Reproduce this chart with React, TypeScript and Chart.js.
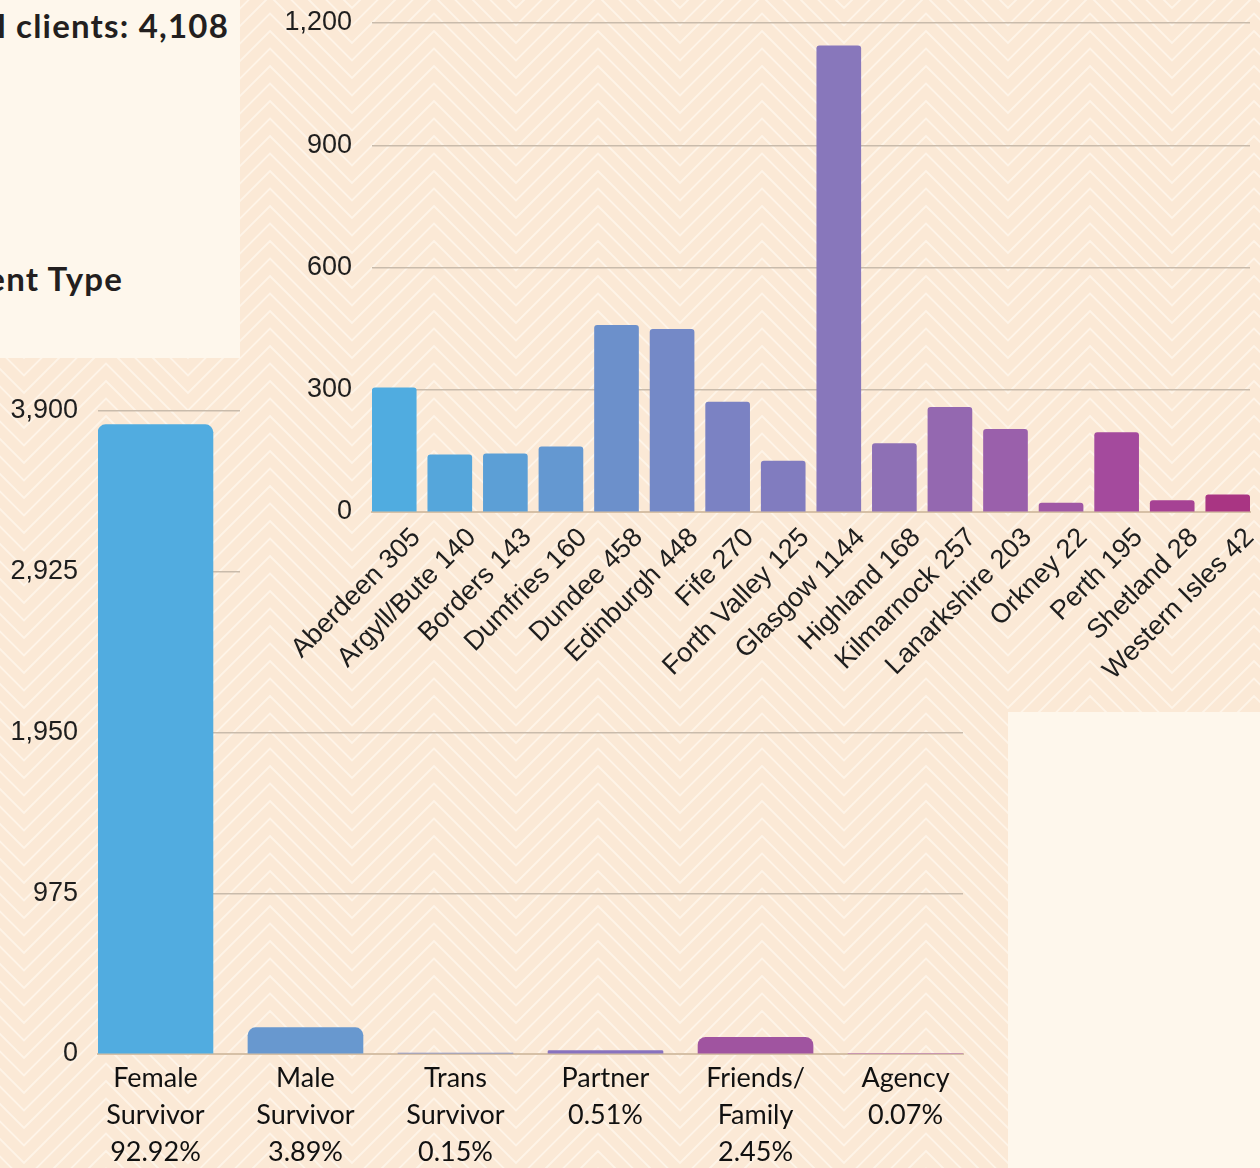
import React, { useEffect, useRef } from "react";
import { Chart, registerables } from "chart.js";

Chart.register(...registerables);

// ---------- data ----------
const regionNames = [
  "Aberdeen", "Argyll/Bute", "Borders", "Dumfries", "Dundee", "Edinburgh",
  "Fife", "Forth Valley", "Glasgow", "Highland", "Kilmarnock", "Lanarkshire",
  "Orkney", "Perth", "Shetland", "Western Isles",
];
const regionClients = [305, 140, 143, 160, 458, 448, 270, 125, 1144, 168, 257, 203, 22, 195, 28, 42];
const regionColors = [
  "#50ACE0", "#55A6DB", "#5C9FD6", "#6498D1", "#6C90CB", "#7489C7",
  "#7B82C3", "#817CBF", "#8877BB", "#8E70B5", "#9468B0", "#9A60AB",
  "#A058A5", "#A44A9D", "#A64294", "#A93583",
];
const regionTicks = [0, 300, 600, 900, 1200];

const typeNames = [
  ["Female", "Survivor"],
  ["Male", "Survivor"],
  ["Trans", "Survivor"],
  ["Partner"],
  ["Friends/", "Family"],
  ["Agency"],
];
const typePercents = ["92.92%", "3.89%", "0.15%", "0.51%", "2.45%", "0.07%"];
const typeClients = [3817, 160, 6, 21, 101, 3];
const typeColors = ["#51ACE0", "#6898CF", "#7D8BCA", "#8872BE", "#A054A0", "#C58AB5"];
const typeTicks = [0, 975, 1950, 2925, 3900];

const totalClients = 4108;

// ---------- styles ----------
const BG = "#FBE9D6";
const LINE = "#FEF4E8";
const PANEL = "#FEF7EC";
const GRID = "#C9BBAB";
const AXIS = "#D6C0A6";
const TEXT = "#1E1E1E";
const ARIAL = "'Liberation Sans', Arial, sans-serif";

function chevronSvg(w: number, h: number) {
  const S = 17.5;
  const half = 82;
  const x0 = 352;
  const vy = 43;
  let lines = "";
  for (let k = -8; k <= Math.ceil(h / S) + 2; k++) {
    const pts: string[] = [];
    for (let n = -6; n <= Math.ceil((w - x0) / half) + 2; n++) {
      const x = x0 + n * half;
      const z = n % 2 === 0 ? 0 : -half;
      pts.push(`${x},${(vy + k * S + z).toFixed(1)}`);
    }
    lines += `<polyline points='${pts.join(" ")}' fill='none' stroke='${LINE}' stroke-width='1.8'/>`;
  }
  const svg = `<svg xmlns='http://www.w3.org/2000/svg' width='${w}' height='${h}'><rect width='${w}' height='${h}' fill='${BG}'/>${lines}</svg>`;
  return `url("data:image/svg+xml;utf8,${encodeURIComponent(svg)}")`;
}

const PATTERN = chevronSvg(1260, 1168);

const numFmt = (v: number) => v.toLocaleString("en-US");

function RegionChart() {
  const ref = useRef<HTMLCanvasElement | null>(null);
  useEffect(() => {
    if (!ref.current) return;
    const chart = new Chart(ref.current, {
      type: "bar",
      data: {
        datasets: [
          {
            data: regionClients.map((v, i) => ({ x: i, y: v })),
            backgroundColor: regionColors,
            borderRadius: 3,
            barThickness: 44,
          },
        ],
      },
      options: {
        animation: false,
        responsive: false,
        maintainAspectRatio: false,
        layout: { padding: { top: 23, right: 10, left: 0, bottom: 0 } },
        plugins: { legend: { display: false }, tooltip: { enabled: false } },
        scales: {
          x: {
            type: "linear",
            offset: false,
            min: -0.4,
            max: regionNames.length - 1 + 0.4,
            bounds: "data",
            afterBuildTicks: (s: any) => {
              s.ticks = regionNames.map((_, i) => ({ value: i }));
            },
            afterFit: (s: any) => {
              s.height = 200;
            },
            grid: { display: false },
            border: { color: AXIS, width: 2 },
            ticks: {
              autoSkip: false,
              minRotation: 45,
              maxRotation: 45,
              padding: 2,
              labelOffset: 22,
              color: TEXT,
              font: { family: ARIAL, size: 27 },
              callback: (_v: any, i: number) => `${regionNames[i]} ${regionClients[i]}`,
            },
          },
          y: {
            min: 0,
            max: 1200,
            afterBuildTicks: (s: any) => {
              s.ticks = regionTicks.map((v) => ({ value: v }));
            },
            afterFit: (s: any) => {
              s.width = 132;
              s.paddingTop = 0;
              s.paddingBottom = 0;
            },
            grid: { color: GRID, lineWidth: 1.5, drawTicks: false },
            border: { display: false },
            ticks: {
              padding: 20,
              color: TEXT,
              font: { family: ARIAL, size: 27 },
              callback: (v: any) => numFmt(Number(v)),
            },
          },
        },
      },
    } as any);
    return () => chart.destroy();
  }, []);
  return <canvas ref={ref} width={1020} height={712} style={{ display: "block", width: 1020, height: 712 }} />;
}

function TypeChart() {
  const ref = useRef<HTMLCanvasElement | null>(null);
  useEffect(() => {
    if (!ref.current) return;
    const chart = new Chart(ref.current, {
      type: "bar",
      data: {
        datasets: [
          {
            data: typeClients.map((v, i) => ({ x: i, y: v })),
            backgroundColor: typeColors,
            borderRadius: 8,
            barThickness: 115,
          },
        ],
      },
      options: {
        animation: false,
        responsive: false,
        maintainAspectRatio: false,
        layout: { padding: { top: 53, right: 45, left: 0, bottom: 0 } },
        plugins: { legend: { display: false }, tooltip: { enabled: false } },
        scales: {
          x: {
            type: "linear",
            offset: false,
            min: -0.383,
            max: typeClients.length - 1 + 0.383,
            bounds: "data",
            afterBuildTicks: (s: any) => {
              s.ticks = typeClients.map((_, i) => ({ value: i }));
            },
            afterFit: (s: any) => {
              s.height = 114;
            },
            grid: { display: false },
            border: { color: AXIS, width: 2 },
            ticks: {
              autoSkip: false,
              minRotation: 0,
              maxRotation: 0,
              padding: -2,
              color: "#111",
              font: { family: "Lato, 'Noto Sans', sans-serif", size: 27, lineHeight: 1.37 },
              callback: (_v: any, i: number) => [...typeNames[i], typePercents[i]],
            },
          },
          y: {
            min: 0,
            max: 3900,
            afterBuildTicks: (s: any) => {
              s.ticks = typeTicks.map((v) => ({ value: v }));
            },
            afterFit: (s: any) => {
              s.width = 98;
              s.paddingTop = 0;
              s.paddingBottom = 0;
            },
            grid: { color: GRID, lineWidth: 1.5, drawTicks: false },
            border: { display: false },
            ticks: {
              padding: 20,
              color: TEXT,
              font: { family: ARIAL, size: 27 },
              callback: (v: any) => numFmt(Number(v)),
            },
          },
        },
      },
    } as any);
    return () => chart.destroy();
  }, []);
  return <canvas ref={ref} width={1008} height={810} style={{ display: "block", width: 1008, height: 810 }} />;
}

export default function App() {
  const titleStyle: React.CSSProperties = {
    position: "absolute",
    whiteSpace: "nowrap",
    fontFamily: "Lato, 'Noto Sans', sans-serif",
    fontWeight: 700,
    fontSize: 33,
    letterSpacing: 1.2,
    color: "#231F20",
    lineHeight: 1,
  };
  return (
    <div
      style={{
        position: "absolute",
        left: 0,
        top: 0,
        width: 1260,
        height: 1168,
        overflow: "hidden",
        backgroundImage: PATTERN,
        backgroundColor: BG,
      }}
    >
      <div style={{ position: "absolute", left: 0, top: 0, width: 240, height: 358, background: PANEL, overflow: "hidden" }}>
        <div style={{ ...titleStyle, right: 11, top: 9 }}>Total clients: {numFmt(totalClients)}</div>
        <div style={{ ...titleStyle, right: 117, top: 262 }}>Clients by Client Type</div>
      </div>
      <div style={{ position: "absolute", left: 1008, top: 712, width: 252, height: 456, background: PANEL }} />
      <div style={{ position: "absolute", left: 0, top: 358, width: 1008, height: 810 }}>
        <TypeChart />
      </div>
      <div
        style={{
          position: "absolute",
          left: 240,
          top: 0,
          width: 1020,
          height: 712,
          backgroundImage: PATTERN,
          backgroundPosition: "-240px 0px",
          backgroundColor: BG,
        }}
      >
        <RegionChart />
      </div>
    </div>
  );
}
